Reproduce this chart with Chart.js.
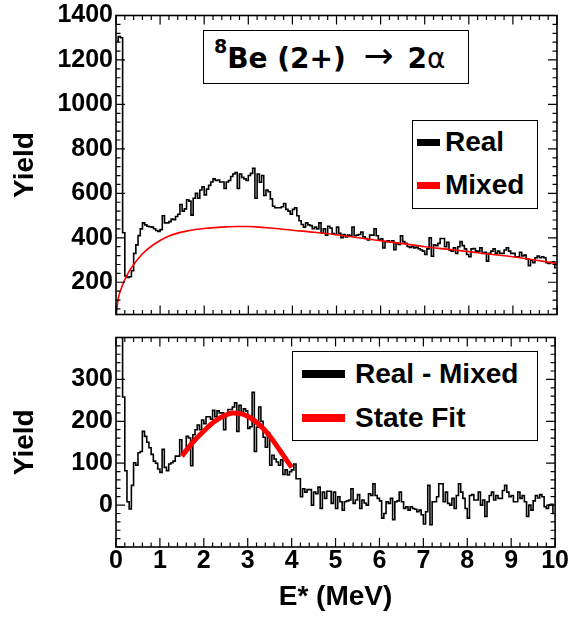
<!DOCTYPE html>
<html>
<head>
<meta charset="utf-8">
<title>8Be (2+) → 2α</title>
<script src="https://cdn.jsdelivr.net/npm/chart.js@4.4.1/dist/chart.umd.min.js"></script>
<style>
  body { margin: 0; background: #fff; }
  #wrap { position: relative; width: 571px; height: 617px; }
  canvas { position: absolute; left: 0; }
  #topChart { top: 0; }
  #bottomChart { top: 322px; }
  .box { position: absolute; box-sizing: border-box; border: 1.5px solid #000; background: #fff; }
  .mark { position: absolute; }
  .ltext { position: absolute; font: bold 28px/28px "Liberation Sans", Arial, sans-serif; color: #000; white-space: nowrap; }
  #titleText { position: absolute; left: 214px; top: 45px; font: bold 28px/28px "DejaVu Sans", sans-serif; color: #000; white-space: nowrap; }
  #titleText span { line-height: 0; }
</style>
</head>
<body>
<div id="wrap">
  <canvas id="topChart" width="571" height="330"></canvas>
  <canvas id="bottomChart" width="571" height="295"></canvas>

  <!-- title pave -->
  <div class="box" style="left:203px; top:30px; width:266px; height:54px;"></div>
  <div id="titleText"><span style="font-size:19px; vertical-align:15px;">8</span>Be (2+) <span style="font-weight:normal; font-size:36px; margin:0 4px 0 8px;">&rarr;</span> 2<span style="font-weight:normal;">&alpha;</span></div>

  <!-- legend, top panel -->
  <div class="box" style="left:412px; top:120px; width:126px; height:89px;"></div>
  <div class="mark" style="left:417px; top:139px; width:23px; height:7px; background:#000;"></div>
  <div class="ltext" style="left:445px; top:128px;">Real</div>
  <div class="mark" style="left:417px; top:182px; width:23px; height:7px; background:#ff0000;"></div>
  <div class="ltext" style="left:445px; top:171px;">Mixed</div>

  <!-- legend, bottom panel -->
  <div class="box" style="left:292px; top:351px; width:246px; height:90px;"></div>
  <div class="mark" style="left:302px; top:370px; width:43px; height:8px; background:#000;"></div>
  <div class="ltext" style="left:355px; top:360px;">Real - Mixed</div>
  <div class="mark" style="left:302px; top:414px; width:43px; height:8px; background:#ff0000;"></div>
  <div class="ltext" style="left:355px; top:404px;">State Fit</div>
</div>

<script>
// --- Data ---
const binWidth = 0.05;   // MeV, 200 bins from 0 to 10
const xTicks = [0, 1, 2, 3, 4, 5, 6, 7, 8, 9, 10];
const yTicksTop = [200, 400, 600, 800, 1000, 1200, 1400];
const yTicksBottom = [0, 100, 200, 300];

// Real events (top panel)
const real = [
    1285, 1305, 1300, 423, 228, 222, 225, 252, 330, 368,
    410, 440, 467, 458, 452, 450, 448, 441, 433, 429,
    437, 499, 467, 467, 473, 484, 482, 496, 506, 550,
    520, 530, 571, 565, 502, 578, 600, 578, 615, 629,
    593, 619, 636, 651, 665, 658, 660, 651, 651, 622,
    651, 658, 676, 687, 694, 622, 687, 672, 665, 658,
    680, 690, 713, 578, 687, 650, 680, 590, 615, 607,
    575, 542, 535, 535, 535, 540, 554, 528, 520, 506,
    528, 535, 499, 477, 460, 448, 467, 458, 455, 441,
    448, 440, 467, 423, 441, 412, 452, 444, 419, 415,
    448, 420, 400, 415, 404, 412, 409, 448, 409, 412,
    415, 426, 404, 397, 390, 412, 412, 441, 409, 390,
    395, 354, 383, 386, 380, 386, 346, 375, 370, 409,
    383, 375, 361, 357, 361, 354, 358, 351, 345, 340,
    325, 350, 400, 317, 368, 365, 375, 397, 397, 360,
    380, 345, 340, 355, 330, 360, 383, 365, 350, 325,
    315, 350, 352, 340, 340, 355, 330, 335, 295, 330,
    340, 350, 330, 340, 330, 330, 345, 355, 340, 330,
    330, 315, 315, 335, 318, 322, 305, 275, 300, 288,
    310, 318, 310, 315, 310, 288, 285, 290, 292, 265
];

// Mixed events (smooth background, top panel)
const mixedE = [0, 0.05, 0.1, 0.2, 0.3, 0.4, 0.5, 0.6, 0.8, 1.0, 1.2, 1.4, 1.6, 1.8, 2.0,
    2.25, 2.5, 2.75, 3.0, 3.25, 3.5, 4.0, 4.5, 5.0, 5.5, 6.0, 6.5, 7.0, 7.5, 8.0, 8.5, 9.0, 9.5, 10.0];
const mixedY = [45, 125, 162, 212, 250, 280, 305, 328, 362, 388, 408, 421, 430, 437, 442,
    446, 449, 451, 451, 448, 444, 434, 425, 414, 400, 387, 374, 360, 349, 338, 326, 315, 300, 284];

// Real - Mixed (bottom panel)
const realMinusMixed = [
    1200, 1220, 1150, 258, 82, 8, -9, 47, 101, 95,
    125, 128, 176, 164, 150, 137, 121, 105, 100, 86,
    78, 133, 90, 82, 98, 101, 105, 117, 117, 156,
    121, 125, 164, 160, 94, 168, 180, 191, 180, 203,
    194, 211, 211, 205, 226, 211, 225, 220, 220, 180,
    215, 228, 228, 234, 244, 176, 238, 220, 230, 225,
    183, 187, 269, 128, 186, 234, 200, 162, 138, 173,
    95, 119, 110, 103, 95, 108, 73, 84, 72, 80,
    84, 98, 63, 63, 20, 39, 31, 37, 37, 0,
    31, 27, 43, -8, 31, 16, 33, 33, 4, 31,
    -8, 20, 8, -12, 8, 10, 12, 39, 4, 12,
    25, -8, 12, 5, 0, 27, 23, 51, 23, 16,
    10, -31, -20, 8, 4, 16, -35, 8, 10, 31,
    8, -8, -4, -12, -4, -8, -10, -16, -12, -23,
    -45, -16, 47, -47, 8, 8, 20, 51, 51, 8,
    31, 4, 0, 16, -8, 23, 51, 31, 16, -8,
    -31, 23, 25, 12, 12, 31, 0, 12, -27, 8,
    23, 31, 12, 23, 16, 16, 35, 47, 31, 20,
    23, 8, 8, 31, 16, 23, 8, -27, 0, -12,
    10, 23, 17, 25, 20, -4, -8, 0, 2, -20
];

// State fit curve (bottom panel)
const fitE = [1.5, 1.75, 2.0, 2.25, 2.5, 2.65, 2.8, 3.0, 3.25, 3.5, 3.75, 4.0];
const fitY = [117, 150, 177, 200, 215, 220, 219, 212, 193, 165, 128, 90];

// --- helpers ---
const FONT = "'Liberation Sans', Arial, sans-serif";
const toHist = arr => arr.map((v, i) => ({ x: (i + 0.5) * binWidth, y: v }));
const toPts = (xs, ys) => xs.map((x, i) => ({ x: x, y: ys[i] }));

// ROOT-like frame with ticks pointing inwards on all four sides
const frameTicks = {
    id: 'frameTicks',
    afterDatasetsDraw(chart, args, opts) {
        const { ctx, chartArea: a } = chart;
        const xs = chart.scales.x, ys = chart.scales.y;
        ctx.save();
        ctx.strokeStyle = '#000';
        ctx.lineWidth = 1.2;
        ctx.beginPath();
        const nx = Math.round((xs.max - xs.min) / opts.xMinor);
        for (let k = 0; k <= nx; k++) {
            const px = xs.getPixelForValue(xs.min + k * opts.xMinor);
            const len = (k % 5 === 0) ? 9 : 4.5;
            ctx.moveTo(px, a.bottom); ctx.lineTo(px, a.bottom - len);
            ctx.moveTo(px, a.top); ctx.lineTo(px, a.top + len);
        }
        const k0 = Math.ceil(ys.min / opts.yMinor), k1 = Math.floor(ys.max / opts.yMinor);
        for (let k = k0; k <= k1; k++) {
            const py = ys.getPixelForValue(k * opts.yMinor);
            const len = (k % 5 === 0) ? 9 : 4.5;
            ctx.moveTo(a.left, py); ctx.lineTo(a.left + len, py);
            ctx.moveTo(a.right, py); ctx.lineTo(a.right - len, py);
        }
        ctx.stroke();
        ctx.lineWidth = 1.6;
        ctx.strokeRect(a.left, a.top, a.right - a.left, a.bottom - a.top);
        ctx.restore();
    }
};

function yAxis(min, max, ticks) {
    return {
        min: min, max: max,
        afterFit: s => { s.width = 116; },
        afterBuildTicks: s => { s.ticks = ticks.map(v => ({ value: v })); },
        grid: { display: false, drawTicks: false },
        border: { display: false },
        ticks: { color: '#000', padding: 3, font: { family: FONT, size: 25, weight: 'bold', lineHeight: 1 }, callback: v => String(v) },
        title: { display: true, text: 'Yield', color: '#000', padding: { top: 11, bottom: 0 },
                 font: { family: FONT, size: 28, weight: 'bold', lineHeight: 1 } }
    };
}

// --- top panel: Real and Mixed ---
new Chart(document.getElementById('topChart'), {
    type: 'line',
    data: {
        datasets: [
            { label: 'Real', data: toHist(real), borderColor: '#000', borderWidth: 1.6,
              stepped: 'middle', pointRadius: 0, fill: false, order: 1 },
            { label: 'Mixed', data: toPts(mixedE, mixedY), borderColor: '#ff0000', borderWidth: 1.6,
              cubicInterpolationMode: 'monotone', pointRadius: 0, fill: false, order: 0 }
        ]
    },
    options: {
        responsive: false,
        animation: false,
        layout: { padding: { top: 14, right: 14, bottom: 8, left: 0 } },
        scales: {
            x: { type: 'linear', min: 0, max: 10, display: false },
            y: yAxis(55, 1400, yTicksTop)
        },
        plugins: {
            legend: { display: false },
            tooltip: { enabled: false },
            frameTicks: { xMinor: 0.2, yMinor: 40 }
        }
    },
    plugins: [frameTicks]
});

// --- bottom panel: Real - Mixed and State Fit ---
new Chart(document.getElementById('bottomChart'), {
    type: 'line',
    data: {
        datasets: [
            { label: 'Real - Mixed', data: toHist(realMinusMixed), borderColor: '#000', borderWidth: 1.6,
              stepped: 'middle', pointRadius: 0, fill: false, order: 1 },
            { label: 'State Fit', data: toPts(fitE, fitY), borderColor: '#ff0000', borderWidth: 5,
              cubicInterpolationMode: 'monotone', pointRadius: 0, fill: false, order: 0 }
        ]
    },
    options: {
        responsive: false,
        animation: false,
        layout: { padding: { top: 12, right: 14, bottom: 0, left: 0 } },
        scales: {
            x: {
                type: 'linear', min: 0, max: 10,
                afterFit: s => { s.height = 70; },
                afterBuildTicks: s => { s.ticks = xTicks.map(v => ({ value: v })); },
                grid: { display: false, drawTicks: false },
                border: { display: false },
                ticks: { color: '#000', padding: 2, maxRotation: 0, autoSkip: false,
                         font: { family: FONT, size: 25, weight: 'bold', lineHeight: 1 } },
                title: { display: true, text: 'E* (MeV)', color: '#000', padding: { top: 0, bottom: 6 },
                         font: { family: FONT, size: 28, weight: 'bold', lineHeight: 1 } }
            },
            y: yAxis(-100, 400, yTicksBottom)
        },
        plugins: {
            legend: { display: false },
            tooltip: { enabled: false },
            frameTicks: { xMinor: 0.2, yMinor: 20 }
        }
    },
    plugins: [frameTicks]
});
</script>
</body>
</html>
